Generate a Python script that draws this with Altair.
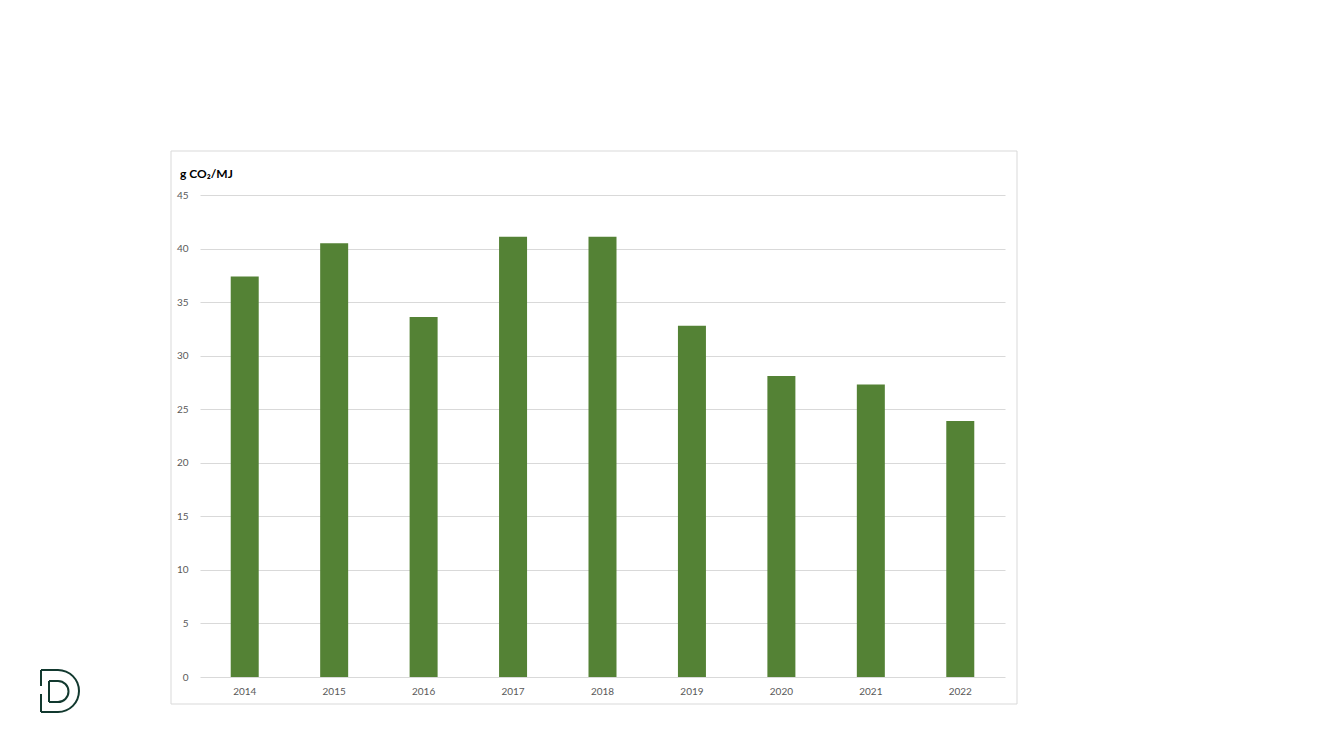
import altair as alt
import pandas as pd

years = ["2014", "2015", "2016", "2017", "2018", "2019", "2020", "2021", "2022"]
values = [37.4, 40.5, 33.6, 41.1, 41.1, 32.8, 28.1, 27.3, 23.9]
y_ticks = [0, 5, 10, 15, 20, 25, 30, 35, 40, 45]
unit_label = "g CO₂/MJ"

df = pd.DataFrame({"year": years, "value": values})
one = alt.Data(values=[{"k": 1}])

FONT = "Lato"
LOGO = "#12392f"

bars = alt.Chart(df).mark_bar(color="#548235", size=28).encode(
    x=alt.X("year:N", sort=None,
            scale=alt.Scale(paddingInner=0, paddingOuter=0),
            axis=alt.Axis(title=None, ticks=False, domain=False, labelAngle=0,
                          labelPadding=9, labelFont=FONT, labelFontSize=10,
                          labelColor="#595959")),
    y=alt.Y("value:Q", scale=alt.Scale(domain=[0, 45], nice=False),
            axis=alt.Axis(title=None, values=y_ticks, ticks=False, domain=False,
                          grid=True, gridColor="#d9d9d9", gridWidth=1,
                          labelPadding=12, labelFont=FONT, labelFontSize=10,
                          labelColor="#595959")),
)

frame = alt.Chart(one).mark_rect(fill="transparent", stroke="#d9d9d9",
                                 strokeWidth=1, clip=False).encode(
    x=alt.value(-29), x2=alt.value(817), y=alt.value(-44), y2=alt.value(509))

title = alt.Chart(one).mark_text(text=unit_label, align="left", baseline="alphabetic",
                                 font=FONT, fontSize=12, fontWeight="bold",
                                 color="#000000").encode(
    x=alt.value(-20), y=alt.value(-17))

# logo (decorative), coordinates relative to plot origin (200,195 on page)
ox, oy = -200, -195
def rule(x1, y1, x2, y2):
    return alt.Chart(one).mark_rule(color=LOGO, strokeWidth=2, clip=False).encode(
        x=alt.value(ox + x1), x2=alt.value(ox + x2),
        y=alt.value(oy + y1), y2=alt.value(oy + y2))

def arc(cx, cy, r):
    return alt.Chart(one).mark_arc(color=LOGO, radius=r + 1, radius2=r - 1,
                                   theta=0, theta2=3.14159, clip=False).encode(
        x=alt.value(ox + cx), y=alt.value(oy + cy))

logo = [
    rule(41, 670, 58, 670), rule(41, 712, 58, 712),
    rule(41, 670, 41, 686), rule(41, 694, 41, 712),
    arc(58, 691, 21),
    rule(49, 681, 58, 681), rule(49, 702, 58, 702),
    rule(49, 681, 49, 702),
    arc(58, 691.5, 10.5),
]

chart = alt.layer(frame, bars, title, *logo).properties(
    width=805, height=482,
    autosize=alt.AutoSizeParams(type="none"),
    padding={"left": 192, "top": 187, "right": 320, "bottom": 65},
    background="white",
).configure_view(strokeWidth=0)

chart.save("out.html", embed_options={"renderer": "svg", "actions": False})
